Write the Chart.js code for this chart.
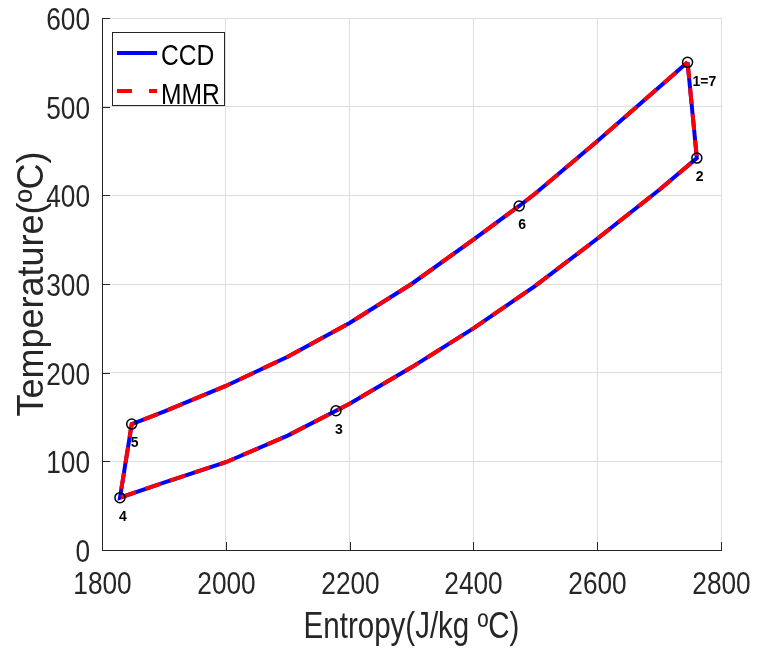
<!DOCTYPE html>
<html>
<head>
<meta charset="utf-8">
<script src="https://cdn.jsdelivr.net/npm/chart.js@4/dist/chart.umd.min.js"></script>
<style>
  html, body { margin: 0; padding: 0; background: #fff; }
  #wrap { width: 758px; height: 649px; }
</style>
</head>
<body>
<div id="wrap"><canvas id="ts"></canvas></div>
<script>
// cycle path: 1 -> 2 -> 3 -> 4 -> 5 -> 6 -> 1
const entropy = [2746, 2761, 2700, 2600, 2500, 2400, 2300, 2200, 2178, 2100, 2000, 1900, 1829,
                 1848, 1900, 2000, 2100, 2200, 2300, 2400, 2474, 2500, 2600, 2700, 2746];
const tempCCD = [550, 442, 406, 351, 298, 250, 206, 165, 157, 129, 99, 76, 59,
                 142, 156, 185, 218, 256, 300, 350, 388, 402, 461, 522, 550];
const tempMMR = [550, 442, 406, 351, 298, 250, 206, 165, 157, 129, 99, 76, 59,
                 142, 156, 185, 218, 256, 300, 350, 388, 402, 461, 522, 550];

// state points
const stateS = [2746, 2761, 2178, 1829, 1848, 2474];
const stateT = [550, 442, 157, 59, 142, 388];
const stateLabels = ['1=7', '2', '3', '4', '5', '6'];

const xTicks = [1800, 2000, 2200, 2400, 2600, 2800];
const yTicks = [0, 100, 200, 300, 400, 500, 600];

const FONT = "'Liberation Sans', Arial, sans-serif";
const ink = '#262626';
const SQUEEZE = 0.82; // the reference glyphs are narrow

const toXY = (xs, ys) => xs.map((x, i) => ({ x: x, y: ys[i] }));

// narrow text, optionally turned up for the y title
function narrowText(ctx, txt, x, y, align, rotate) {
  ctx.save();
  ctx.translate(x, y);
  if (rotate) ctx.rotate(-Math.PI / 2);
  else ctx.scale(SQUEEZE, 1);
  ctx.textAlign = align;
  ctx.textBaseline = 'alphabetic';
  ctx.fillText(txt, 0, 0);
  ctx.restore();
}

// tick labels, inward tick marks, axis titles, point labels, legend
const extras = {
  id: 'extras',
  afterDraw(chart) {
    const ctx = chart.ctx;
    const xs = chart.scales.x, ys = chart.scales.y;
    const area = chart.chartArea;
    ctx.save();
    ctx.strokeStyle = ink;
    ctx.fillStyle = ink;
    ctx.lineWidth = 1;
    ctx.font = '32px ' + FONT;
    xTicks.forEach(v => {
      const px = Math.round(xs.getPixelForValue(v)) + 0.5;
      ctx.beginPath();
      ctx.moveTo(px, area.bottom);
      ctx.lineTo(px, area.bottom - 8);
      ctx.stroke();
      narrowText(ctx, String(v), px, area.bottom + 44, 'center');
    });
    yTicks.forEach(v => {
      const py = Math.round(ys.getPixelForValue(v)) + 0.5;
      ctx.beginPath();
      ctx.moveTo(area.left, py);
      ctx.lineTo(area.left + 8, py);
      ctx.stroke();
      narrowText(ctx, String(v), area.left - 12, py + 11.5, 'right');
    });

    ctx.font = '36px ' + FONT;
    narrowText(ctx, 'Entropy(J/kg ºC)', (area.left + area.right) / 2, 638, 'center');
    narrowText(ctx, 'Temperature(ºC)', 43, (area.top + area.bottom) / 2, 'center', true);

    // labels next to the state points
    ctx.fillStyle = '#000';
    ctx.font = "bold 14px " + FONT;
    ctx.textBaseline = 'middle';
    ctx.textAlign = 'left';
    stateLabels.forEach((lab, i) => {
      const px = xs.getPixelForValue(stateS[i]);
      const py = ys.getPixelForValue(stateT[i]);
      if (i === 0) ctx.fillText(lab, px + 5, py + 20);
      else ctx.fillText(lab, px - 1, py + 19);
    });

    // legend
    const lx = area.left + 10, ly = area.top + 14;
    ctx.fillStyle = '#fff';
    ctx.fillRect(lx, ly, 112, 73);
    ctx.strokeStyle = ink;
    ctx.lineWidth = 1;
    ctx.strokeRect(lx + 0.5, ly + 0.5, 112, 73);
    ctx.lineWidth = 4;
    ctx.strokeStyle = '#0000ff';
    ctx.beginPath();
    ctx.moveTo(lx + 5, ly + 21);
    ctx.lineTo(lx + 45, ly + 21);
    ctx.stroke();
    ctx.strokeStyle = '#ff0000';
    ctx.setLineDash([15, 17]);
    ctx.beginPath();
    ctx.moveTo(lx + 5, ly + 59);
    ctx.lineTo(lx + 45, ly + 59);
    ctx.stroke();
    ctx.setLineDash([]);
    ctx.fillStyle = '#000';
    ctx.font = '30px ' + FONT;
    narrowText(ctx, 'CCD', lx + 49, ly + 33, 'left');
    narrowText(ctx, 'MMR', lx + 49, ly + 72, 'left');
    ctx.restore();
  }
};

new Chart(document.getElementById('ts'), {
  type: 'scatter',
  data: {
    datasets: [
      {
        label: 'states',
        data: toXY(stateS, stateT),
        showLine: false,
        pointRadius: 5,
        pointBorderWidth: 1.5,
        pointBorderColor: '#000',
        pointBackgroundColor: 'rgba(0,0,0,0)',
        order: 0
      },
      {
        label: 'MMR',
        data: toXY(entropy, tempMMR),
        showLine: true,
        borderColor: '#ff0000',
        borderWidth: 4,
        borderDash: [16, 10],
        pointRadius: 0,
        tension: 0,
        order: 1
      },
      {
        label: 'CCD',
        data: toXY(entropy, tempCCD),
        showLine: true,
        borderColor: '#0000ff',
        borderWidth: 4,
        pointRadius: 0,
        tension: 0,
        order: 2
      }
    ]
  },
  options: {
    responsive: true,
    maintainAspectRatio: false,
    animation: false,
    layout: { padding: { top: 18, right: 37, left: 0, bottom: 0 } },
    plugins: {
      legend: { display: false },
      tooltip: { enabled: false }
    },
    scales: {
      x: {
        type: 'linear',
        min: 1800,
        max: 2800,
        afterBuildTicks: s => { s.ticks = xTicks.map(v => ({ value: v })); },
        afterFit: s => { s.height = 99; },
        grid: { color: '#dedede', drawTicks: false },
        border: { color: ink, width: 1 },
        ticks: { display: false }
      },
      y: {
        type: 'linear',
        min: 0,
        max: 600,
        afterBuildTicks: s => { s.ticks = yTicks.map(v => ({ value: v })); },
        afterFit: s => { s.width = 102; },
        grid: { color: '#dedede', drawTicks: false },
        border: { color: ink, width: 1 },
        ticks: { display: false }
      }
    }
  },
  plugins: [extras]
});
</script>
</body>
</html>
